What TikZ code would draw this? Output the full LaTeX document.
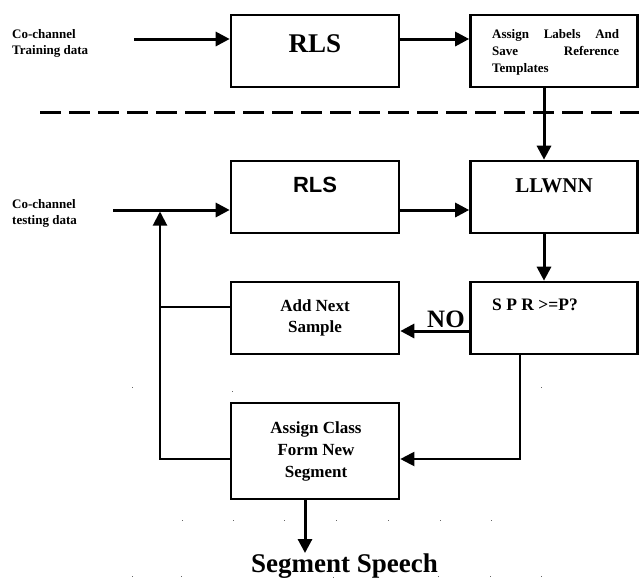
\documentclass[tikz,border=0pt]{standalone}
\usepackage{fontspec}
\setmainfont{Liberation Serif}
\newfontfamily\arialfont{Liberation Sans}
\usetikzlibrary{arrows.meta}
\begin{document}
\begin{tikzpicture}[x=1pt,y=-1pt,
  box/.style={draw,line width=2.6pt,rectangle,inner sep=0pt,minimum width=168pt,minimum height=72pt},
  conn/.style={line width=3pt,-{Triangle[length=14pt,width=14pt]}},
  thinconn/.style={line width=2pt},
  thinarrow/.style={line width=2pt,-{Triangle[length=14pt,width=14pt]}},
  lbl/.style={inner sep=0pt,anchor=base west,font=\bfseries\fontsize{13}{16}\selectfont},
  mid/.style={inner sep=0pt,anchor=base,font=\bfseries\fontsize{17}{21}\selectfont},
  speck/.style={fill=black!60}
]
\useasboundingbox (0,0) rectangle (639,579);

% boxes
\node[box] (rlsA) at (315,51) {};
\node[box,minimum width=167pt] (lab) at (554,51) {};
\node[box] (rlsB) at (315,197) {};
\node[box,minimum width=167pt] (llw) at (554,197) {};
\node[box] (add) at (315,318) {};
\node[box,minimum width=167pt] (spr) at (554,318) {};
\node[box,minimum height=96pt] (cls) at (315,451) {};

% texts
\node[lbl] (tr1) at (12,38) {Co-channel};
\node[lbl] (tr2) at (12,54) {Training data};
\node[lbl] (te1) at (12,208) {Co-channel};
\node[lbl] (te2) at (12,224) {testing data};
\node[inner sep=0pt,anchor=base,font=\bfseries\fontsize{27}{30}\selectfont] (trls) at (315,52) {RLS};
\node[lbl] (la1) at (492,38) {\hbox to 127pt{Assign\hfill Labels\hfill And}};
\node[lbl] (la2) at (492,55) {\hbox to 127pt{Save\hfill Reference}};
\node[lbl] (la3) at (492,72) {Templates};
\node[inner sep=0pt,anchor=base,font=\arialfont\bfseries\fontsize{22}{26}\selectfont] (trls2) at (315,192) {RLS};
\node[inner sep=0pt,anchor=base,font=\bfseries\fontsize{21}{25}\selectfont] (tllw) at (554,192) {LLWNN};
\node[mid] (ad1) at (315,311) {Add Next};
\node[mid] (ad2) at (315,332) {Sample};
\node[inner sep=0pt,anchor=base west,font=\bfseries\fontsize{17.5}{21}\selectfont] (tspr) at (492,310) {S P R >=P?};
\node[inner sep=0pt,anchor=base west,font=\bfseries\fontsize{25}{30}\selectfont] (no) at (427,327) {NO};
\node[mid] (cl1) at (316,433) {Assign Class};
\node[mid] (cl2) at (316,455) {Form New};
\node[mid] (cl3) at (316,477) {Segment};
\node[inner sep=0pt,anchor=base west,font=\bfseries\fontsize{27}{30}\selectfont] (seg) at (251,572) {Segment Speech};

% coordinates
\coordinate (inA) at (134,39);
\coordinate (inB) at (113,210);
\coordinate (colR) at (544,0);
\coordinate (fbx) at (160,0);
\coordinate (noy) at (0,331);
\coordinate (addy) at (0,307);
\coordinate (clsy) at (0,459);
\coordinate (sprx) at (520,0);
\coordinate (outx) at (305,0);
\coordinate (tipB) at (160,211.5);
\coordinate (outEnd) at (305,553);

% dashed separator
\coordinate (dL) at (40,112);
\coordinate (dR) at (639,112);
\draw[line width=3pt,dash pattern=on 21pt off 8pt] (dL) -- (dR);

% connectors
\draw[conn] (inA) -- (inA -| rlsA.west);
\draw[conn] (inA -| rlsA.east) -- (inA -| lab.west);
\draw[conn] (lab.south -| colR) -- (llw.north -| colR);
\draw[conn] (inB) -- (inB -| rlsB.west);
\draw[conn] (inB -| rlsB.east) -- (inB -| llw.west);
\draw[conn] (llw.south -| colR) -- (spr.north -| colR);
\draw[conn] (spr.west |- noy) -- (add.east |- noy);
\draw[thinconn] (add.west |- addy) -- (fbx |- addy);
\draw[thinarrow] (cls.west |- clsy) -- (fbx |- clsy) -- (tipB);
\draw[thinarrow] (spr.south -| sprx) -- (sprx |- clsy) -- (cls.east |- clsy);
\draw[conn] (cls.south -| outx) -- (outEnd);

% specks
\foreach \p in {(132,387),(232,391),(541,387),(182,520),(233,520),(284,520),(336,520),(388,520),(440,520),(491,520),(132,576),(181,576),(333,577),(438,576),(490,576),(541,576)}
  \fill[speck] \p rectangle +(1.2,1.2);
\end{tikzpicture}
\end{document}
